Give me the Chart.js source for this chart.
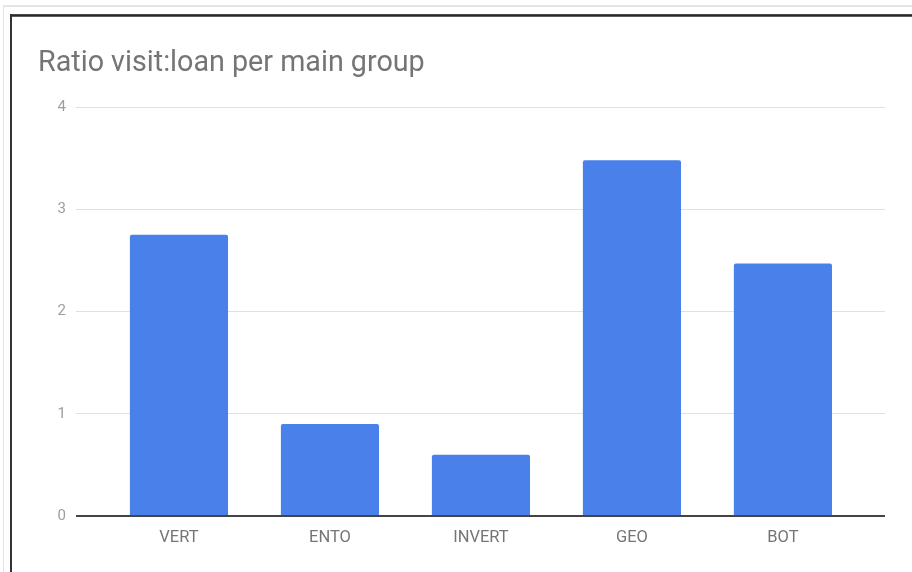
<!DOCTYPE html>
<html>
<head>
<meta charset="utf-8">
<script src="https://cdn.jsdelivr.net/npm/chart.js@4/dist/chart.umd.min.js"></script>
<style>
    body { margin: 0; background: #fff; }
    .wrap { position: relative; width: 912px; height: 572px; overflow: hidden; }
    .outer-top { position: absolute; left: 3px; top: 5px; right: 0; height: 2px; background: #e4e4e0; }
    .outer-left { position: absolute; left: 3px; top: 5px; bottom: 0; width: 1px; background: #e4e4e0; }
    .card-top { position: absolute; left: 10px; top: 14px; right: 0; height: 3px; background: linear-gradient(#555, #2a2a2a, #777); }
    .card-left { position: absolute; left: 10px; top: 14px; bottom: 0; width: 2px; background: #333; }
    canvas { position: absolute; left: 0; top: 0; }
</style>
</head>
<body>
<div class="wrap">
    <div class="outer-top"></div>
    <div class="outer-left"></div>
    <div class="card-top"></div>
    <div class="card-left"></div>
    <canvas id="ratioChart" width="912" height="572"></canvas>
</div>
<script>
const categories = ["VERT", "ENTO", "INVERT", "GEO", "BOT"];
const ratios = [2.75, 0.90, 0.60, 3.48, 2.47];
const yTicks = [0, 1, 2, 3, 4];

// bars sit on a linear x scale so the category slots can be narrower than the gridlines
let barData = categories.map((name, i) => ({ x: i, y: ratios[i] }));

let ctx = document.getElementById("ratioChart").getContext("2d");
let ratioChart = new Chart(ctx, {
    type: "bar",
    data: {
        datasets: [{
            label: "Ratio",
            data: barData,
            backgroundColor: "#4a80e9",
            borderWidth: 0,
            borderRadius: 2,
            categoryPercentage: 1,
            barPercentage: 0.65
        }]
    },
    options: {
        responsive: false,
        animation: false,
        layout: { padding: { left: 38, right: 27, top: 0, bottom: 0 } },
        scales: {
            x: {
                type: "linear",
                offset: false,
                min: -0.682,
                max: 4.676,
                grid: { display: false, drawTicks: false },
                border: { display: false },
                afterFit: scale => { scale.height = 56; },
                ticks: {
                    stepSize: 1,
                    includeBounds: false,
                    autoSkip: false,
                    maxRotation: 0,
                    padding: 11.5,
                    color: "#757575",
                    font: { family: "Roboto", size: 16.5 },
                    callback: value => categories[value] ?? ""
                }
            },
            y: {
                min: yTicks[0],
                max: yTicks[yTicks.length - 1],
                afterFit: scale => { scale.width = 38; },
                grid: {
                    drawTicks: false,
                    lineWidth: ctx => ctx.tick && ctx.tick.value === 0 ? 2 : 1,
                    color: ctx => ctx.tick && ctx.tick.value === 0 ? "#444444" : "#e0e0e0"
                },
                border: { display: false },
                ticks: {
                    stepSize: 1,
                    padding: 10,
                    color: "#9e9e9e",
                    font: { family: "Roboto", size: 15 }
                }
            }
        },
        plugins: {
            legend: { display: false },
            tooltip: { enabled: false },
            title: {
                display: true,
                text: "Ratio visit:loan per main group",
                align: "start",
                color: "#757575",
                font: { family: "Roboto", size: 28.7, weight: "normal" },
                padding: { top: 46.8, bottom: 25.8 }
            }
        }
    }
});
</script>
</body>
</html>
